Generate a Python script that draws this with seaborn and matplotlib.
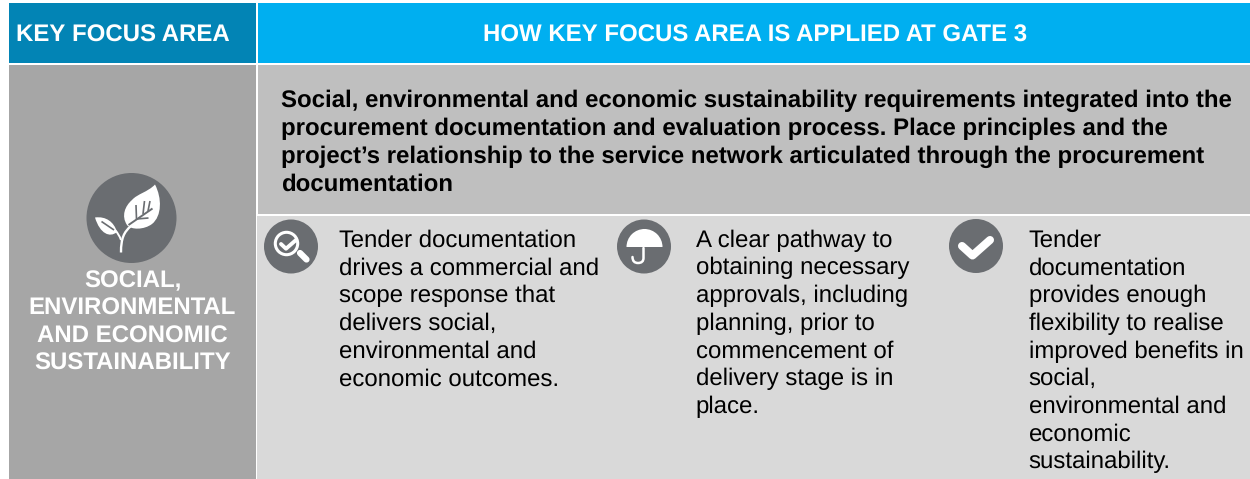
import matplotlib
matplotlib.use("Agg")
import matplotlib.pyplot as plt
import seaborn as sns
from matplotlib.patches import Rectangle, Circle, PathPatch, Wedge
from matplotlib.path import Path

HEADER_LEFT = "KEY FOCUS AREA"
HEADER_RIGHT = "HOW KEY FOCUS AREA IS APPLIED AT GATE 3"
AREA_LINES = ["SOCIAL,", "ENVIRONMENTAL", "AND ECONOMIC", "SUSTAINABILITY"]
SUMMARY_LINES = [
    "Social, environmental and economic sustainability requirements integrated into the",
    "procurement documentation and evaluation process. Place principles and the",
    "project\u2019s relationship to the service network articulated through the procurement",
    "documentation",
]
COL1_LINES = ["Tender documentation", "drives a commercial and", "scope response that",
              "delivers social,", "environmental and", "economic outcomes."]
COL2_LINES = ["A clear pathway to", "obtaining necessary", "approvals, including",
              "planning, prior to", "commencement of", "delivery stage is in", "place."]
COL3_LINES = ["Tender", "documentation", "provides enough", "flexibility to realise",
              "improved benefits in", "social,", "environmental and", "economic",
              "sustainability."]

DARK_BLUE = "#0284b5"
LIGHT_BLUE = "#00aff0"
GREY_LEFT = "#a6a6a6"
GREY_TOP = "#bfbfbf"
GREY_BOTTOM = "#d9d9d9"
ICON_GREY = "#6a6d71"

sns.set_theme(style="white")
plt.rcParams['font.family'] = ['Liberation Sans', 'DejaVu Sans']
plt.rcParams['text.hinting'] = 'no_hinting'
plt.rcParams['text.hinting_factor'] = 1

fig = plt.figure(figsize=(12.5, 4.79), dpi=100)
ax = fig.add_axes([0, 0, 1, 1])
ax.set_xlim(0, 1250)
ax.set_ylim(479, 0)
ax.axis("off")


def block(x0, y0, x1, y1, color):
    ax.add_patch(Rectangle((x0, y0), x1 - x0, y1 - y0, fc=color, ec="none"))


def text_lines(lines, x, y, pitch, **kw):
    for i, line in enumerate(lines):
        ax.text(x, y + i * pitch, line, va="baseline", **kw)


def shape(verts, codes=None, **kw):
    ax.add_patch(PathPatch(Path(verts, codes), **kw))


block(9, 3, 256, 63, DARK_BLUE)
block(258, 3, 1250, 63, LIGHT_BLUE)
block(9, 65, 256, 479, GREY_LEFT)
block(258, 65, 1250, 214, GREY_TOP)
block(257, 216, 1250, 479, GREY_BOTTOM)

ax.text(16, 42, HEADER_LEFT, color="white", fontsize=17.3, fontweight="bold", va="baseline")
ax.text(755, 42, HEADER_RIGHT, color="white", fontsize=17.5, fontweight="bold",
        va="baseline", ha="center")
text_lines(AREA_LINES, 132.5, 287, 27.7, color="white", fontsize=17.5, fontweight="bold", ha="center")
text_lines(SUMMARY_LINES, 280.6, 107, 28, color="black", fontsize=17.4, fontweight="bold")
text_lines(COL1_LINES, 339, 246.8, 27.7, color="black", fontsize=17.3)
text_lines(COL2_LINES, 695.6, 246.8, 27.7, color="black", fontsize=17.3)
text_lines(COL3_LINES, 1028.6, 246.8, 27.7, color="black", fontsize=17.3)

# leaf icon
C4, C3, L, M = Path.CURVE4, Path.CURVE3, Path.LINETO, Path.MOVETO
ax.add_patch(Circle((131.5, 218), 45, fc=ICON_GREY, ec="none"))
shape([(155, 184.5), (148, 192), (137, 194), (132, 200), (125, 206), (121, 216), (127, 225),
       (131, 230), (144, 230), (152, 224), (162, 216), (162, 198), (155, 184.5)],
      [M, C4, C4, C4, C4, C4, C4, C4, C4, C4, C4, C4, C4], fc="white", ec="none")
shape([(95, 217.5), (106, 216), (114, 222), (117, 232), (110, 238), (100, 234), (95, 217.5)],
      [M, C4, C4, C4, C4, C4, C4], fc="white", ec="none")
shape([(121, 252.5), (121, 238), (124, 232), (131, 226)], [M, C4, C4, C4],
      fc="none", ec="white", lw=1.7)
shape([(121, 240), (119, 234), (115, 230)], [M, C3, C3], fc="none", ec="white", lw=1.4)
# veins
shape([(128.5, 225), (152.5, 208.5)], fc="none", ec=ICON_GREY, lw=1.4)
shape([(136.5, 219), (136, 205)], fc="none", ec=ICON_GREY, lw=1.2)
shape([(143, 214), (144.5, 201)], fc="none", ec=ICON_GREY, lw=1.2)
shape([(148, 211), (150, 201)], fc="none", ec=ICON_GREY, lw=1.2)
shape([(136.5, 219), (148.5, 218)], fc="none", ec=ICON_GREY, lw=1.2)
shape([(101.5, 221.5), (114, 230)], fc="none", ec=ICON_GREY, lw=1.2)

# magnifier icon
ax.add_patch(Circle((291, 246.5), 27, fc=ICON_GREY, ec="none"))
ax.add_patch(Circle((286.5, 243.5), 11.2, fc="none", ec="white", lw=2.2))
shape([(300, 253), (306.5, 259.5)], fc="none", ec="white", lw=4.5, capstyle="round")
shape([(281, 244), (286, 248.7), (296, 240)], fc="none", ec="white", lw=2.8,
      capstyle="round", joinstyle="round")

# umbrella icon
ax.add_patch(Circle((644, 246.5), 27, fc=ICON_GREY, ec="none"))
ax.add_patch(Wedge((644.5, 247), 18, 180, 360, fc="white", ec="none"))
block(643, 228.5, 645.5, 232, "white")
shape([(643.5, 248), (643.5, 258), (643.5, 263), (638, 263), (632.5, 263), (632.5, 257)],
      [M, L, C3, C3, C3, C3], fc="none", ec="white", lw=1.8, capstyle="round")

# tick icon
ax.add_patch(Circle((976, 246), 27, fc=ICON_GREY, ec="none"))
shape([(962, 246), (972.5, 255.5), (990, 240)], fc="none", ec="white", lw=5.8,
      capstyle="round", joinstyle="round")

fig.savefig("out.png", dpi=100)
